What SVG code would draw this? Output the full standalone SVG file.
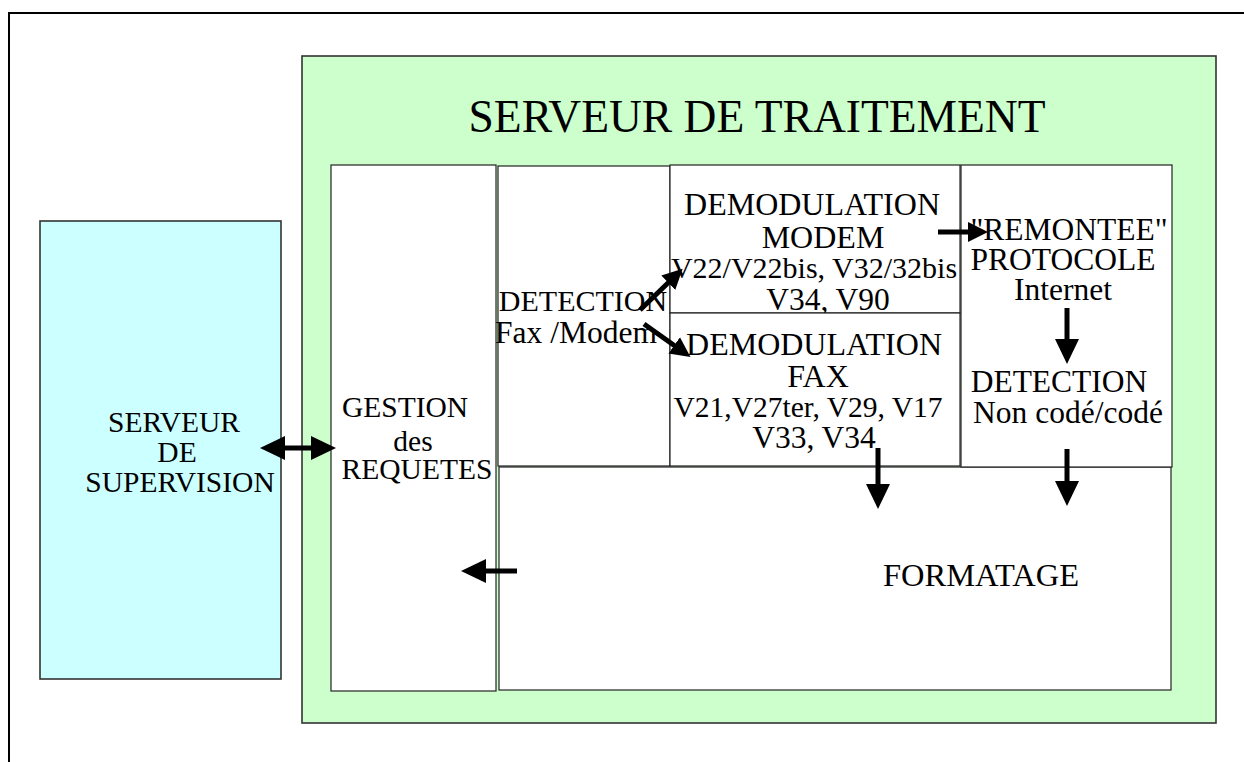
<svg xmlns="http://www.w3.org/2000/svg" width="1244" height="762" viewBox="0 0 1244 762">
  <style>
    text { font-family: "Liberation Serif", "Times New Roman", serif; fill: #000; text-anchor: middle; }
    .box { fill: #fff; stroke: #222; stroke-width: 1.2; }
    .green { fill: #CCFFCC; stroke: #333; stroke-width: 1.6; }
    .cyan { fill: #CCFFFF; stroke: #333; stroke-width: 1.6; }
    .t32 { font-size: 32px; }
    .t31 { font-size: 31.5px; }
    .t30 { font-size: 30px; }
    .t29 { font-size: 29.5px; }
    .arrow { stroke: #000; stroke-width: 5; fill: none; }
  </style>
  <defs>
    <marker id="head" markerUnits="userSpaceOnUse" markerWidth="25" markerHeight="26" viewBox="-1 -13 25 26" refX="0" refY="0" orient="auto-start-reverse">
      <path d="M-1,-12 L24,0 L-1,12 Z" fill="#000"/>
    </marker>
    <marker id="headS" markerUnits="userSpaceOnUse" markerWidth="21" markerHeight="22" viewBox="-1 -11 21 22" refX="0" refY="0" orient="auto">
      <path d="M-1,-10 L19,0 L-1,10 Z" fill="#000"/>
    </marker>
  </defs>

  <!-- page frame -->
  <path d="M9,762 V13 H1244" fill="none" stroke="#000" stroke-width="2"/>

  <g id="serveur-supervision">
    <rect class="cyan" x="40" y="221" width="241" height="458"/>
    <text class="t29" x="174" y="432">SERVEUR</text>
    <text class="t29" x="177" y="462">DE</text>
    <text class="t29" x="180" y="492">SUPERVISION</text>
  </g>

  <g id="serveur-traitement">
    <rect class="green" x="302" y="56" width="914" height="667"/>
    <text x="757" y="132" style="font-size:45.5px">SERVEUR DE TRAITEMENT</text>
  </g>

  <g id="gestion-requetes">
    <rect class="box" x="331" y="165" width="165" height="526"/>
    <text class="t29" x="405" y="417">GESTION</text>
    <text class="t29" x="413" y="451">des</text>
    <text class="t29" x="417" y="479">REQUETES</text>
  </g>

  <g id="formatage">
    <rect class="box" x="499" y="467" width="672" height="223"/>
    <text x="981" y="586" style="font-size:32.5px">FORMATAGE</text>
  </g>

  <g id="detection-fax-modem">
    <rect class="box" x="498" y="166" width="172" height="300"/>
    <text class="t30" x="583" y="311">DETECTION</text>
    <text class="t31" x="576" y="343">Fax /Modem</text>
  </g>

  <g id="demodulation-modem">
    <rect class="box" x="670" y="165" width="290" height="148"/>
    <text class="t32" x="812" y="215">DEMODULATION</text>
    <text class="t32" x="823" y="248">MODEM</text>
    <text class="t30" x="814" y="278">V22/V22bis, V32/32bis</text>
    <text class="t31" x="828" y="310">V34, V90</text>
  </g>

  <g id="demodulation-fax">
    <rect class="box" x="670" y="313" width="290" height="153"/>
    <text class="t32" x="814" y="355">DEMODULATION</text>
    <text class="t32" x="818" y="387">FAX</text>
    <text class="t29" x="808" y="417">V21,V27ter, V29, V17</text>
    <text class="t31" x="814" y="448">V33, V34</text>
  </g>

  <g id="remontee-protocole">
    <rect class="box" x="961" y="165" width="211" height="302"/>
    <text class="t31" x="1069" y="240">"REMONTEE"</text>
    <text class="t31" x="1063" y="270">PROTOCOLE</text>
    <text class="t31" x="1063" y="300">Internet</text>
    <text class="t31" x="1059" y="392">DETECTION</text>
    <text class="t31" x="1068" y="423">Non codé/codé</text>
  </g>

  <g id="connectors">
    <line class="arrow" x1="284" y1="448" x2="312" y2="448" marker-start="url(#head)" marker-end="url(#head)"/>
    <line class="arrow" x1="517" y1="571" x2="485" y2="571" marker-end="url(#head)"/>
    <line class="arrow" x1="938" y1="232" x2="969" y2="232" marker-end="url(#headS)"/>
    <line class="arrow" x1="640" y1="310" x2="669" y2="282" marker-end="url(#headS)"/>
    <line class="arrow" x1="644" y1="324" x2="675" y2="346" marker-end="url(#headS)"/>
    <line class="arrow" x1="878" y1="448" x2="878" y2="485" marker-end="url(#head)"/>
    <line class="arrow" x1="1067" y1="308" x2="1067" y2="340" marker-end="url(#head)"/>
    <line class="arrow" x1="1067" y1="449" x2="1067" y2="482" marker-end="url(#head)"/>
  </g>
</svg>
